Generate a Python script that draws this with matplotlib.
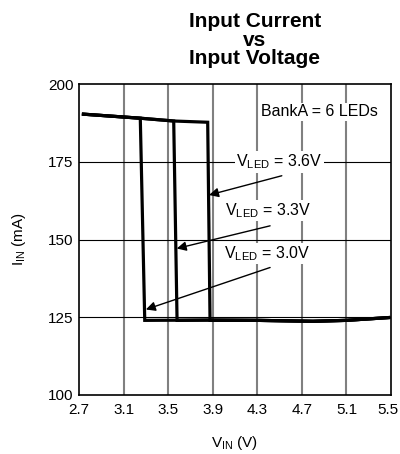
import matplotlib
matplotlib.use("Agg")
import matplotlib.pyplot as plt
import matplotlib.transforms as mtransforms

plt.rcParams['font.family'] = ['Liberation Sans', 'DejaVu Sans']
plt.rcParams['mathtext.fontset'] = 'custom'
plt.rcParams['mathtext.rm'] = 'Liberation Sans'
plt.rcParams['mathtext.it'] = 'Liberation Sans:italic'
plt.rcParams['mathtext.bf'] = 'Liberation Sans:bold'

# Data (VIN in V, IIN in mA)
v_30 = [2.74, 3.25, 3.29, 3.90, 4.30, 4.80, 5.10, 5.48]
i_30 = [190.3, 189.0, 124.0, 124.1, 124.0, 123.7, 124.0, 124.9]
v_33 = [2.74, 3.25, 3.55, 3.58, 3.90, 4.30, 4.80, 5.10, 5.48]
i_33 = [190.3, 189.0, 188.1, 124.0, 124.1, 124.0, 123.7, 124.0, 124.9]
v_36 = [2.74, 3.25, 3.55, 3.855, 3.876, 4.30, 4.80, 5.10, 5.48]
i_36 = [190.3, 189.0, 188.1, 187.7, 124.0, 124.0, 123.7, 124.0, 124.9]

x_ticks = [2.7, 3.1, 3.5, 3.9, 4.3, 4.7, 5.1, 5.5]
y_ticks = [100, 125, 150, 175, 200]

fig = plt.figure(figsize=(4.0, 4.54), dpi=100)
ax = fig.add_axes([79/400, (454-395)/454, 312/400, 311/454])

ax.set_xlim(2.7, 5.5)
ax.set_ylim(100, 200)
ax.set_xticks(x_ticks)
ax.set_xticklabels([f"{t:.1f}" for t in x_ticks])
ax.set_yticks(y_ticks)
ax.tick_params(length=0, labelsize=11)
ax.tick_params(axis='y', pad=4)
ax.tick_params(axis='x', pad=6)

last = ax.get_xticklabels()[-1]
last.set_transform(last.get_transform() + mtransforms.ScaledTranslation(-0.035, 0, fig.dpi_scale_trans))

for t in x_ticks[1:-1]:
    ax.axvline(t, color='#808080', lw=1.5, zorder=1)
for t in y_ticks[1:-1]:
    ax.axhline(t, color='black', lw=0.8, zorder=1)

for s in ax.spines.values():
    s.set_linewidth(1.2)
    s.set_zorder(5)

for v, i in [(v_30, i_30), (v_33, i_33), (v_36, i_36)]:
    ax.plot(v, i, color='black', lw=2.3, solid_joinstyle='miter', zorder=3)

bbox = dict(facecolor='white', edgecolor='none', pad=1)
ax.text(4.33, 191, "BankA = 6 LEDs", fontsize=11.5, va='center', ha='left', bbox=bbox, zorder=6)
ax.text(4.495, 175.0, r"V$_{\mathrm{LED}}$ = 3.6V", fontsize=11.5, ha='center', va='center', bbox=bbox, zorder=6)
ax.text(4.40, 159.3, r"V$_{\mathrm{LED}}$ = 3.3V", fontsize=11.5, ha='center', va='center', bbox=bbox, zorder=6)
ax.text(4.39, 145.5, r"V$_{\mathrm{LED}}$ = 3.0V", fontsize=11.5, ha='center', va='center', bbox=bbox, zorder=6)

arrow = dict(arrowstyle='-|>', color='black', lw=1.0, mutation_scale=14, shrinkA=0, shrinkB=0)
ax.annotate("", xy=(3.867, 164.3), xytext=(4.52, 170.5), arrowprops=arrow, zorder=7)
ax.annotate("", xy=(3.577, 147.1), xytext=(4.415, 154.4), arrowprops=arrow, zorder=7)
ax.annotate("", xy=(3.30, 127.5), xytext=(4.415, 141.0), arrowprops=arrow, zorder=7)

fig.text(255/400, 1 - 40/454, "Input Current\nvs\nInput Voltage", fontsize=15, fontweight='bold',
         ha='center', va='center', linespacing=0.95)
ax.set_xlabel(r"V$_{\mathrm{IN}}$ (V)", fontsize=11, labelpad=12)
ax.set_ylabel(r"I$_{\mathrm{IN}}$ (mA)", fontsize=11, labelpad=14)

fig.savefig("out.png", dpi=100)
